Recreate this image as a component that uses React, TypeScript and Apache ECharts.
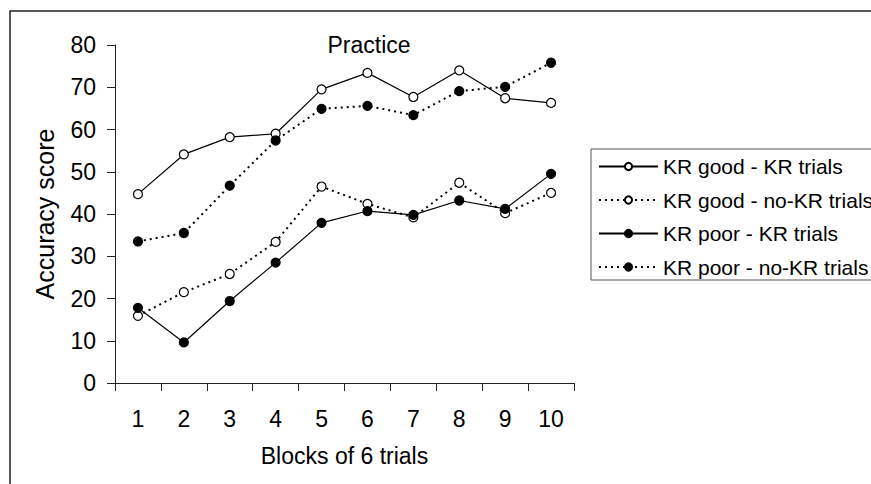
import React, { useEffect, useRef } from "react";
import * as echarts from "echarts";

const blocks = ["1", "2", "3", "4", "5", "6", "7", "8", "9", "10"];
const goodKR = [44.7, 54.1, 58.2, 59.0, 69.5, 73.4, 67.7, 74.0, 67.4, 66.3];
const goodNoKR = [15.9, 21.5, 25.8, 33.4, 46.5, 42.4, 39.2, 47.4, 40.2, 45.0];
const poorKR = [17.8, 9.6, 19.4, 28.5, 37.9, 40.7, 39.8, 43.2, 41.2, 49.5];
const poorNoKR = [33.5, 35.5, 46.7, 57.4, 64.9, 65.6, 63.4, 69.1, 70.1, 75.8];
const seriesNames = [
  "KR good - KR trials",
  "KR good - no-KR trials",
  "KR poor - KR trials",
  "KR poor - no-KR trials",
];

const FONT = "Liberation Sans, Arial, sans-serif";

export default function App() {
  const ref = useRef<HTMLDivElement>(null);
  useEffect(() => {
    if (!ref.current) return;
    const chart = echarts.init(ref.current, null, { renderer: "svg" });
    const mk = (name: string, data: number[], open: boolean, dotted: boolean) => ({
      name,
      type: "line",
      data,
      symbol: "circle",
      symbolSize: 9,
      itemStyle: {
        color: open ? "#ffffff" : "#000000",
        borderColor: "#000000",
        borderWidth: 1.2,
      },
      lineStyle: {
        color: "#000000",
        width: dotted ? 2 : 1.2,
        type: dotted ? [2, 4] : "solid",
      },
    });
    chart.setOption({
      animation: false,
      backgroundColor: "#ffffff",
      textStyle: { fontFamily: FONT, color: "#000" },
      title: {
        text: "Practice",
        left: 364,
        top: 28,
        textAlign: "center",
        textStyle: { fontFamily: FONT, fontSize: 23, fontWeight: "normal", color: "#000" },
      },
      grid: { left: 115, top: 45, right: 297, bottom: 101 },
      xAxis: {
        type: "category",
        data: blocks,
        boundaryGap: true,
        name: "Blocks of 6 trials",
        nameLocation: "middle",
        nameGap: 61,
        nameTextStyle: { fontFamily: FONT, fontSize: 23, color: "#000" },
        axisLine: { lineStyle: { color: "#222", width: 1 } },
        axisTick: { show: true, length: 8, lineStyle: { color: "#222" } },
        axisLabel: { fontFamily: FONT, fontSize: 23, color: "#000", margin: 24 },
        splitLine: { show: false },
      },
      yAxis: {
        type: "value",
        min: 0,
        max: 80,
        interval: 10,
        name: "Accuracy score",
        nameLocation: "middle",
        nameGap: 58,
        nameRotate: 90,
        nameTextStyle: { fontFamily: FONT, fontSize: 25, color: "#000" },
        axisLine: { show: true, lineStyle: { color: "#222", width: 1 } },
        axisTick: { show: true, length: 8, lineStyle: { color: "#222" } },
        axisLabel: { fontFamily: FONT, fontSize: 23, color: "#000", margin: 19 },
        splitLine: { show: false },
      },
      legend: {
        orient: "vertical",
        left: 598,
        top: 156,
        itemWidth: 59,
        itemHeight: 9,
        itemGap: 12.5,
        padding: 0,
        data: seriesNames,
        textStyle: { fontFamily: FONT, fontSize: 21, color: "#000", lineHeight: 20 },
      },
      graphic: [
        {
          type: "rect",
          shape: { x: 10, y: 11, width: 1000, height: 1000 },
          style: { fill: "none", stroke: "#222", lineWidth: 1.5 },
          silent: true,
        },
        {
          type: "rect",
          shape: { x: 591, y: 149, width: 400, height: 131 },
          style: { fill: "none", stroke: "#555", lineWidth: 1 },
          silent: true,
        },
      ],
      series: [
        mk(seriesNames[0], goodKR, true, false),
        mk(seriesNames[1], goodNoKR, true, true),
        mk(seriesNames[2], poorKR, false, false),
        mk(seriesNames[3], poorNoKR, false, true),
      ],
    });
    return () => chart.dispose();
  }, []);
  return <div ref={ref} style={{ width: 871, height: 484, position: "absolute", left: 0, top: 0 }} />;
}
